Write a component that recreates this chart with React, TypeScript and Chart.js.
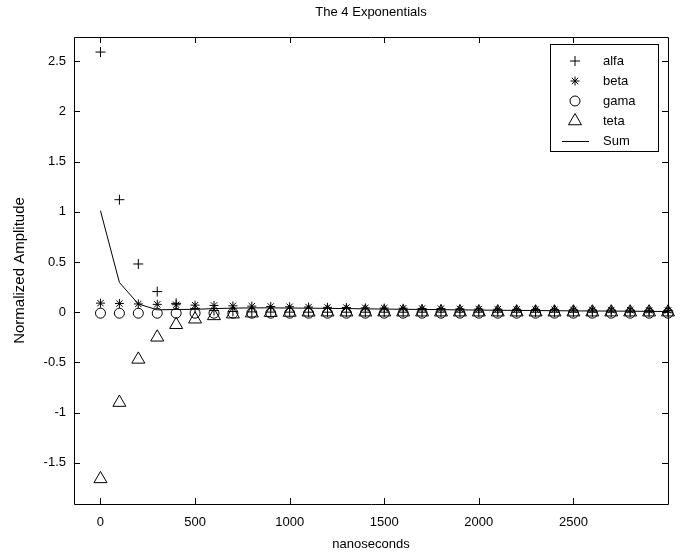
import React, { useEffect, useRef } from "react";
import { Chart, registerables } from "chart.js";
import { drawPoint } from "chart.js/helpers";

Chart.register(...registerables);

// Time axis (nanoseconds)
const times = [
  0, 100, 200, 300, 400, 500, 600, 700, 800, 900, 1000, 1100, 1200, 1300, 1400,
  1500, 1600, 1700, 1800, 1900, 2000, 2100, 2200, 2300, 2400, 2500, 2600, 2700,
  2800, 2900, 3000,
];

// Normalized amplitude of each exponential term
const alfa = [
  2.59, 1.12, 0.48, 0.205, 0.088, 0.038, 0.016, 0.007, 0.003, 0.001, 0.0005, 0, 0,
  0, 0, 0, 0, 0, 0, 0, 0, 0, 0, 0, 0, 0, 0, 0, 0, 0, 0,
];
const beta = [
  0.09, 0.086, 0.082, 0.078, 0.074, 0.07, 0.067, 0.063, 0.06, 0.057, 0.054, 0.051,
  0.048, 0.046, 0.043, 0.041, 0.039, 0.037, 0.035, 0.033, 0.031, 0.029, 0.028,
  0.026, 0.025, 0.023, 0.022, 0.021, 0.02, 0.018, 0.017,
];
const gama = [
  -0.01, -0.01, -0.01, -0.01, -0.01, -0.01, -0.01, -0.01, -0.01, -0.01, -0.01,
  -0.01, -0.01, -0.01, -0.01, -0.01, -0.01, -0.01, -0.01, -0.01, -0.01, -0.01,
  -0.01, -0.01, -0.01, -0.01, -0.01, -0.01, -0.01, -0.01, -0.01,
];
const teta = [
  -1.66, -0.9, -0.47, -0.25, -0.125, -0.07, -0.037, -0.02, -0.01, -0.005, -0.003,
  -0.001, 0, 0, 0, 0, 0, 0, 0, 0, 0, 0, 0, 0, 0, 0, 0, 0, 0, 0, 0,
];
const sum = [
  1.01, 0.296, 0.082, 0.023, 0.027, 0.028, 0.036, 0.04, 0.043, 0.043, 0.0415,
  0.04, 0.038, 0.036, 0.033, 0.031, 0.029, 0.027, 0.025, 0.023, 0.021, 0.019,
  0.018, 0.016, 0.015, 0.013, 0.012, 0.011, 0.01, 0.008, 0.007,
];

const xTicks = [0, 500, 1000, 1500, 2000, 2500];
const yTicks = [-1.5, -1, -0.5, 0, 0.5, 1, 1.5, 2, 2.5];

const FONT = "'Liberation Sans', Arial, Helvetica, sans-serif";
const TITLE = "The 4 Exponentials";

const legendItems = [
  { label: "alfa", style: "cross", radius: 5 },
  { label: "beta", style: "star", radius: 4.5 },
  { label: "gama", style: "circle", radius: 5 },
  { label: "teta", style: "triangle", radius: 7.5 },
  { label: "Sum", style: "line", radius: 0 },
];

// Axes frame with inward ticks on all four sides, title and boxed legend
const framePlugin = {
  id: "frame",
  afterDatasetsDraw(chart: any) {
    const { ctx, chartArea } = chart;
    const { left, right, top, bottom } = chartArea;
    const xs = chart.scales.x;
    const ys = chart.scales.y;
    const tick = 6;
    ctx.save();
    ctx.strokeStyle = "#000";
    ctx.lineWidth = 1;
    ctx.beginPath();
    ctx.rect(Math.round(left) + 0.5, Math.round(top) + 0.5, Math.round(right - left), Math.round(bottom - top));
    for (const v of xTicks) {
      const px = Math.round(xs.getPixelForValue(v)) + 0.5;
      ctx.moveTo(px, bottom);
      ctx.lineTo(px, bottom - tick);
      ctx.moveTo(px, top);
      ctx.lineTo(px, top + tick);
    }
    for (const v of yTicks) {
      const py = Math.round(ys.getPixelForValue(v)) + 0.5;
      ctx.moveTo(left, py);
      ctx.lineTo(left + tick, py);
      ctx.moveTo(right, py);
      ctx.lineTo(right - tick, py);
    }
    ctx.stroke();

    // title
    ctx.fillStyle = "#000";
    ctx.font = `13px ${FONT}`;
    ctx.textAlign = "center";
    ctx.textBaseline = "middle";
    ctx.fillText(TITLE, (left + right) / 2, 12);

    // legend
    const bx = 550;
    const by = 44;
    const bw = 108;
    const bh = 107;
    ctx.fillStyle = "#fff";
    ctx.fillRect(bx, by, bw, bh);
    ctx.strokeStyle = "#000";
    ctx.lineWidth = 1;
    ctx.strokeRect(bx + 0.5, by + 0.5, bw, bh);
    legendItems.forEach((it, i) => {
      const cy = by + 17 + i * 20;
      if (it.style === "line") {
        ctx.beginPath();
        ctx.moveTo(562, cy + 0.5);
        ctx.lineTo(589, cy + 0.5);
        ctx.stroke();
      } else {
        ctx.fillStyle = "rgba(0,0,0,0)";
        drawPoint(ctx, { pointStyle: it.style, radius: it.radius, borderWidth: 1, rotation: 0 }, 575, cy);
      }
      ctx.fillStyle = "#000";
      ctx.textAlign = "left";
      ctx.textBaseline = "middle";
      ctx.fillText(it.label, 603, cy);
    });
    ctx.restore();
  },
};

function markerSet(label: string, data: number[], style: string, radius: number) {
  return {
    label,
    data: times.map((t, i) => ({ x: t, y: data[i] })),
    showLine: false,
    pointStyle: style,
    pointRadius: radius,
    pointHoverRadius: radius,
    pointBorderWidth: 1,
    pointBorderColor: "#000",
    pointBackgroundColor: "rgba(0,0,0,0)",
    borderColor: "#000",
    clip: false,
  };
}

export default function App() {
  const ref = useRef<HTMLCanvasElement | null>(null);

  useEffect(() => {
    if (!ref.current) return;
    const chart = new Chart(ref.current, {
      type: "scatter",
      data: {
        datasets: [
          markerSet("alfa", alfa, "cross", 5),
          markerSet("beta", beta, "star", 4.5),
          markerSet("gama", gama, "circle", 5),
          markerSet("teta", teta, "triangle", 7.5),
          {
            label: "Sum",
            data: times.map((t, i) => ({ x: t, y: sum[i] })),
            showLine: true,
            borderColor: "#000",
            borderWidth: 1,
            pointRadius: 0,
            tension: 0,
            clip: false,
          } as any,
        ],
      },
      options: {
        animation: false,
        responsive: false,
        devicePixelRatio: 1,
        layout: { padding: { top: 37, right: 17, left: 0, bottom: 0 } },
        plugins: {
          legend: { display: false },
          title: { display: false },
          tooltip: { enabled: false },
        },
        scales: {
          x: {
            type: "linear",
            min: -140,
            max: 3000,
            afterFit: (s: any) => {
              s.height = 49;
            },
            afterBuildTicks: (s: any) => {
              s.ticks = xTicks.map((v) => ({ value: v }));
            },
            grid: { display: false, drawTicks: false },
            border: { display: false },
            ticks: {
              padding: 11,
              color: "#000",
              font: { family: FONT, size: 13 },
              maxRotation: 0,
              autoSkip: false,
              callback: (v: any) => String(v),
            },
            title: {
              display: true,
              text: "nanoseconds",
              color: "#000",
              font: { family: FONT, size: 13 },
              padding: { top: 0, bottom: 1 },
            },
          },
          y: {
            type: "linear",
            min: -1.91,
            max: 2.74,
            afterFit: (s: any) => {
              s.width = 74;
            },
            afterBuildTicks: (s: any) => {
              s.ticks = yTicks.map((v) => ({ value: v }));
            },
            grid: { display: false, drawTicks: false },
            border: { display: false },
            ticks: {
              padding: 8,
              color: "#000",
              font: { family: FONT, size: 13 },
              autoSkip: false,
              callback: (v: any) => String(v),
            },
            title: {
              display: true,
              text: "Normalized Amplitude",
              color: "#000",
              font: { family: FONT, size: 15 },
              padding: { top: 11, bottom: 0 },
            },
          },
        },
      },
      plugins: [framePlugin],
    });
    return () => chart.destroy();
  }, []);

  return (
    <div style={{ position: "absolute", left: 0, top: 0, width: 685, height: 553, background: "#fff" }}>
      <canvas ref={ref} width={685} height={553} style={{ display: "block" }} />
    </div>
  );
}
